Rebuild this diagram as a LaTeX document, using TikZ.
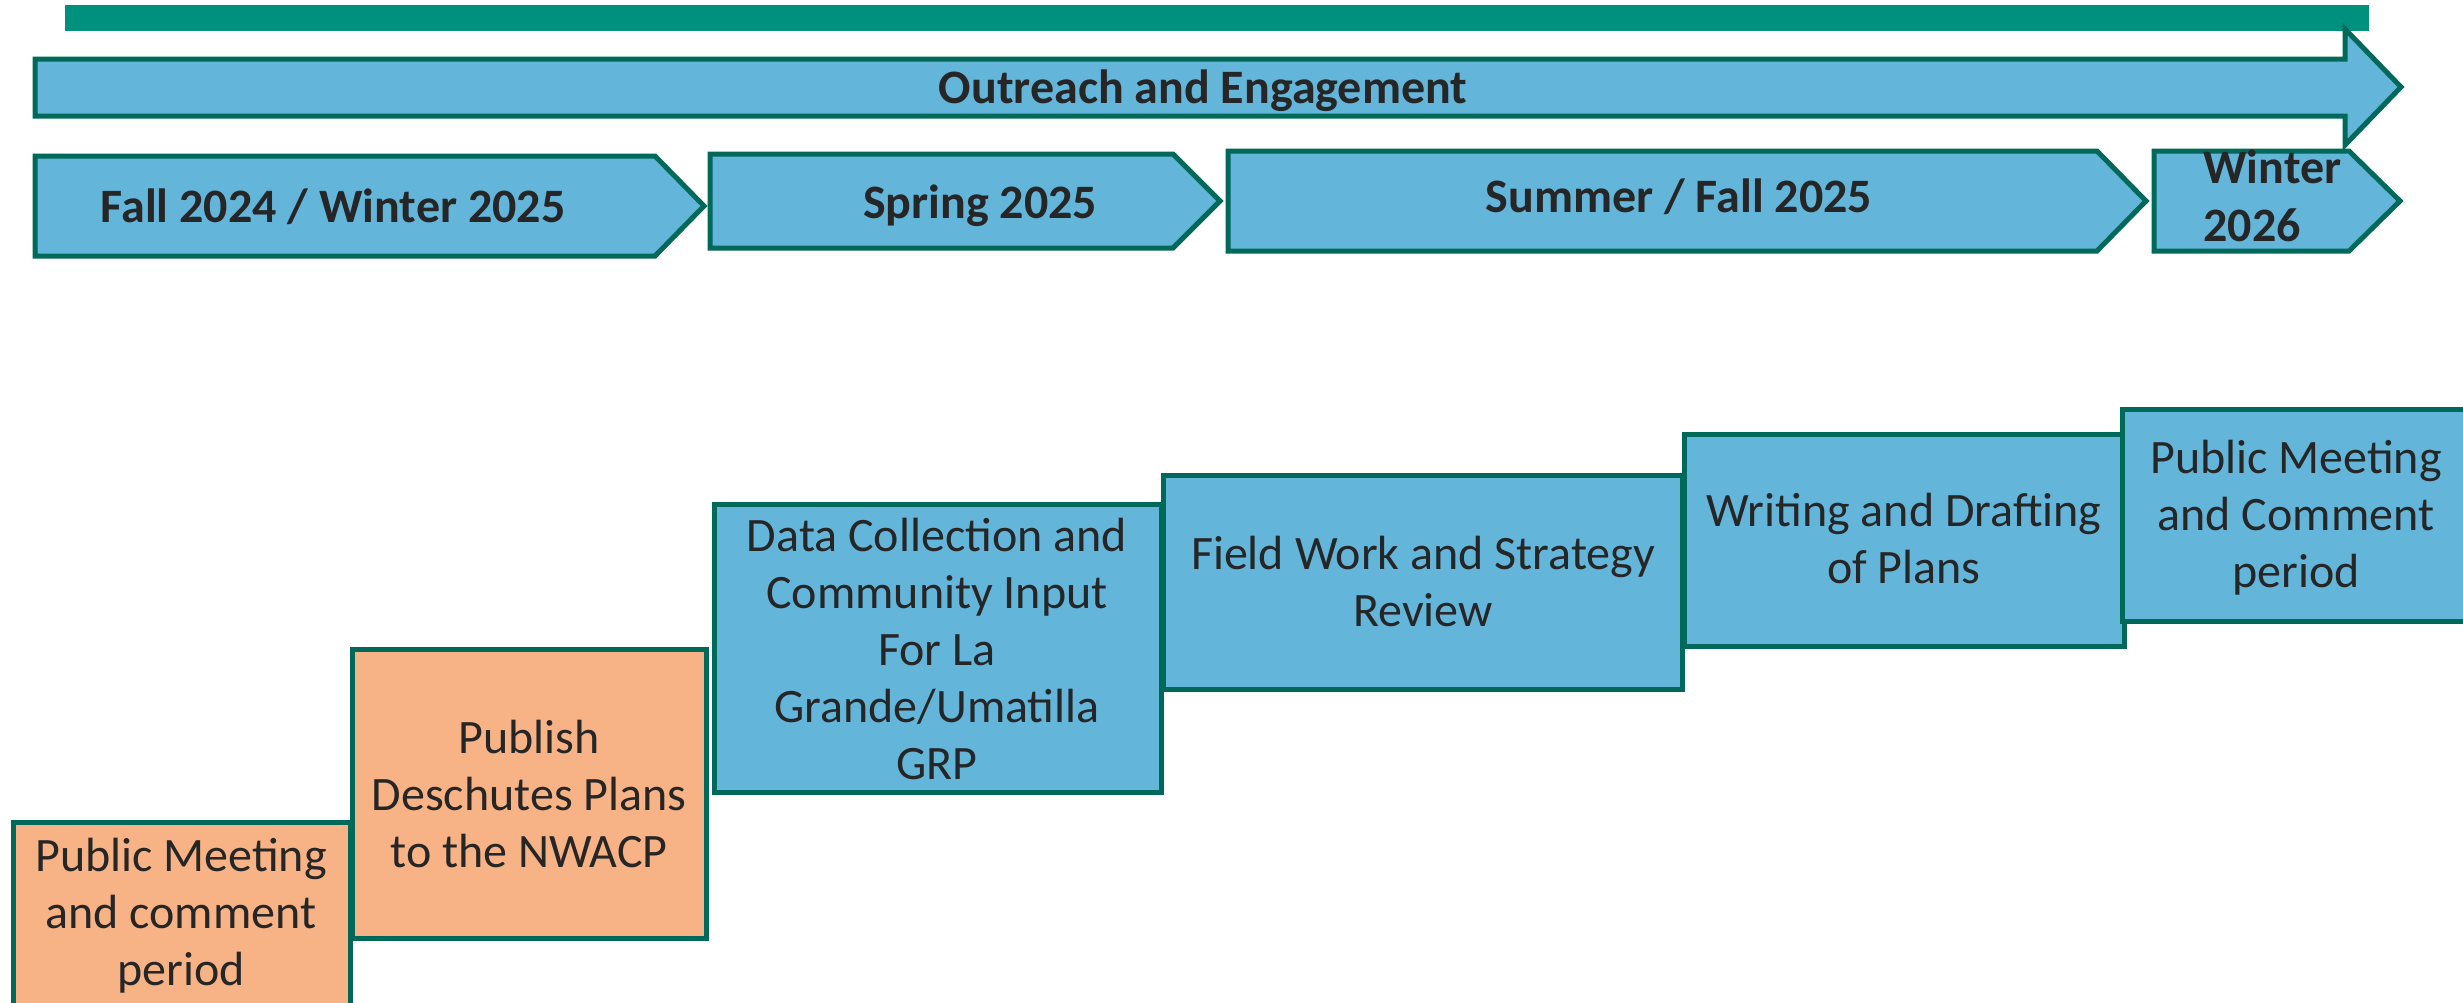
\documentclass[tikz,border=0pt]{standalone}
\usepackage{fontspec}
\setmainfont{Carlito}
\definecolor{barteal}{HTML}{00907E}
\definecolor{edge}{HTML}{00695A}
\definecolor{skyfill}{HTML}{63B5DA}
\definecolor{peach}{HTML}{F7B385}
\definecolor{ink}{HTML}{262626}
\begin{document}
\begin{tikzpicture}[x=0.5pt,y=-0.5pt,
  outline/.style={draw=edge, line width=2.5pt, line join=miter},
  bluebox/.style={outline, fill=skyfill},
  peachbox/.style={outline, fill=peach},
  lbl/.style={text=ink, font=\fontsize{24}{28.5}\selectfont, align=center, inner sep=0pt, anchor=base},
  hdr/.style={text=ink, font=\bfseries\fontsize{24}{29.5}\selectfont, inner sep=0pt, anchor=base}]
\useasboundingbox (0,0) rectangle (2463,1002);
\clip (0,0) rectangle (2463,1002);
\fill[white] (0,0) rectangle (2463,1002);

% top teal bar
\fill[barteal] (65,5) rectangle (2369,31);

% outreach arrow
\path[bluebox] (35,59) -- (2345,59) -- (2345,29) -- (2401,87) -- (2345,145) -- (2345,116) -- (35,116) -- cycle;
\node[hdr] (outreach) at (1203,103) {Outreach and Engagement};

% season chevrons
\path[bluebox] (35,156) -- (655,156) -- (704,206) -- (655,256) -- (35,256) -- cycle;
\node[hdr] (fall) at (333,222) {Fall 2024 / Winter 2025};
\path[bluebox] (710,154) -- (1173,154) -- (1220,201) -- (1173,248) -- (710,248) -- cycle;
\node[hdr] (spring) at (980,218) {Spring 2025};
\path[bluebox] (1228,151) -- (2097,151) -- (2146,201) -- (2097,251) -- (1228,251) -- cycle;
\node[hdr] (summer) at (1679,212) {Summer / Fall 2025};
\path[bluebox] (2154,151) -- (2349,151) -- (2400,201) -- (2349,251) -- (2154,251) -- cycle;
\node[hdr, anchor=base west, align=left, font=\bfseries\fontsize{24}{29}\selectfont] (winter) at (2203,241) {Winter\\2026};

% step boxes
\path[peachbox] (13,822) rectangle (350,1012);
\node[lbl] (pm1) at (181,985) {Public Meeting\\and comment\\period};
\path[peachbox] (352,649) rectangle (706,938);
\node[lbl] (publish) at (529,867) {Publish\\Deschutes Plans\\to the NWACP};
\path[bluebox] (714,504) rectangle (1161,792);
\node[lbl] (data) at (937,779) {Data Collection and\\Community Input\\For La\\Grande/Umatilla\\GRP};
\path[bluebox] (1163,475) rectangle (1682,689);
\node[lbl] (field) at (1423,626) {Field Work and Strategy\\Review};
\path[bluebox] (1684,434) rectangle (2124,646);
\node[lbl] (writing) at (1904,583) {Writing and Drafting\\of Plans};
\path[bluebox] (2122,409) rectangle (2472,621);
\node[lbl] (pm2) at (2296,587) {Public Meeting\\and Comment\\period};
\end{tikzpicture}
\end{document}
